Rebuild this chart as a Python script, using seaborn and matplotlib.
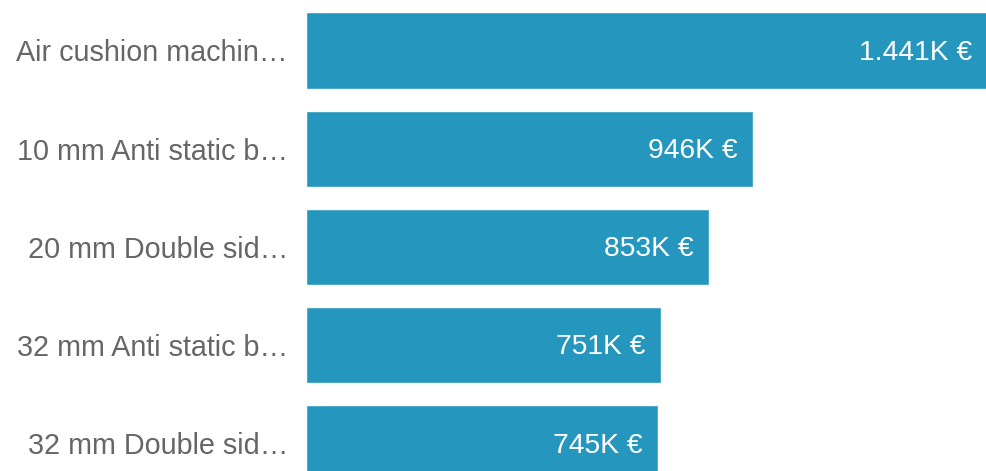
import matplotlib
matplotlib.use("Agg")
import matplotlib.pyplot as plt
import seaborn as sns
import pandas as pd

# Data
products = [
    "Air cushion machin…",
    "10 mm Anti static b…",
    "20 mm Double sid…",
    "32 mm Anti static b…",
    "32 mm Double sid…",
]
revenue_k = [1441, 946, 853, 751, 745]
value_labels = ["1.441K €", "946K €", "853K €", "751K €", "745K €"]

df = pd.DataFrame({"product": products, "revenue": revenue_k})

sns.set_style("white")
plt.rcParams["font.family"] = ["Liberation Sans", "DejaVu Sans"]

fig = plt.figure(figsize=(9.87, 4.71), dpi=100)
ax = fig.add_axes([306 / 987, 0, 1 - 306 / 987, 1])

sns.barplot(data=df, x="revenue", y="product", orient="h", color="#2596be",
            saturation=1, width=0.775, ax=ax)

ax.set_xlim(0, max(revenue_k))
ax.set_ylim(4.28, -0.514)

for i, (v, lab) in enumerate(zip(revenue_k, value_labels)):
    ax.annotate(lab, xy=(v, i), xytext=(-11, -1.5), textcoords="offset points",
                ha="right", va="center", color="white", fontsize=20.3)

ax.set_xlabel("")
ax.set_ylabel("")
ax.set_xticks([])
ax.tick_params(axis="y", length=0, pad=13, labelsize=20.7, labelcolor="#666666")
sns.despine(ax=ax, left=True, bottom=True)

fig.savefig("out.png", dpi=100)
